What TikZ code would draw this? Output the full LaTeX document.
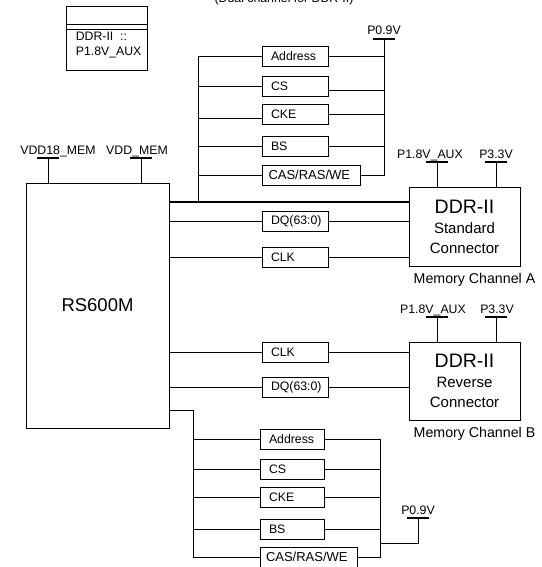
\documentclass[tikz,border=0pt]{standalone}
\usepackage{fontspec}
\setmainfont{Liberation Sans}
\usetikzlibrary{positioning,calc}

\begin{document}
\begin{tikzpicture}[x=1pt,y=-1pt,
  sigbox/.style={draw,line width=0.8pt,minimum height=20,inner xsep=9,text width=#1,align=left,
    font=\fontsize{12.3}{14}\selectfont},
  chipbox/.style={draw,line width=0.9pt,align=center},
  pwrtxt/.style={inner sep=0pt,font=\fontsize{12.3}{14}\selectfont},
  mainline/.style={line width=1.5pt},
  trunk/.style={line width=1pt},
  branch/.style={line width=0.6pt},
  rail/.style={line width=1.3pt}]
\useasboundingbox (0,0) rectangle (541,567);
% caption, cut at the top edge
\node[anchor=base,font=\fontsize{12.3}{14}\selectfont] (title) at (284,3) {(Dual channel for DDR-II)};
% legend
\node[draw,line width=0.8pt,minimum width=81,minimum height=64] (legend) at (106.5,38) {};
\draw[line width=0.8pt] ([yshift=-19]legend.north west) -- ([yshift=-19]legend.north east);
\draw[line width=0.8pt] ([yshift=-24]legend.north west) -- ([yshift=-24]legend.north east);
\node[anchor=north west,inner sep=0pt,align=left,font=\fontsize{12.3}{15}\selectfont] (legtxt) at ([xshift=10,yshift=-26]legend.north west) {DDR-II~~::\\P1.8V\_AUX};
% chips
\node[chipbox,minimum width=143,minimum height=245,font=\fontsize{18.5}{22}\selectfont] (rs) at (97.5,305.5) {RS600M};
\node[chipbox,minimum width=111,minimum height=79,font=\fontsize{15}{20}\selectfont] (ddrA) at (464.5,226.5) {{\fontsize{19.5}{22}\selectfont DDR-II}\\Standard\\Connector};
\node[chipbox,minimum width=111,minimum height=78,font=\fontsize{15}{20}\selectfont] (ddrB) at (464.5,381) {{\fontsize{19.5}{22}\selectfont DDR-II}\\Reverse\\Connector};
\node[anchor=north,inner sep=0pt,font=\fontsize{14.2}{16}\selectfont] (chA) at ([xshift=10,yshift=-7]ddrA.south) {Memory Channel A};
\node[anchor=north,inner sep=0pt,font=\fontsize{14.2}{16}\selectfont] (chB) at ([xshift=10,yshift=-7]ddrB.south) {Memory Channel B};
% power rails
\foreach \n/\x/\y/\dx/\t in {vmem18/48/158/10/VDD18\_MEM,vmem/141/158/-4/VDD\_MEM,
    auxA/437/162/-7/P1.8V\_AUX,p33A/496/162/0/P3.3V,
    auxB/437/317/-4/P1.8V\_AUX,p33B/496/317/1/P3.3V,
    vttA/384/39/0/P0.9V,vttB/418/518/0/P0.9V}{
  \coordinate (\n) at (\x,\y);
  \node[pwrtxt,anchor=base] (\n txt) at (\x+\dx,\y-4) {\t};
  \draw[rail] (\x-11,\y) -- (\x+11,\y);
}
\foreach \n/\c in {vmem18/rs,vmem/rs,auxA/ddrA,p33A/ddrA,auxB/ddrB,p33B/ddrB}{\draw[trunk] (\n) -- (\n |- \c.north);}
% channel A command bus
\node[sigbox=48] (tAddr) at (295,56.5) {Address};
\node[sigbox=48] (tCS) at (295,86.5) {CS};
\node[sigbox=48] (tCKE) at (295,114) {CKE};
\node[sigbox=48] (tBS) at (295,146.5) {BS};
\node[sigbox=86,inner xsep=6,font=\fontsize{13}{14}\selectfont] (tCAS) at (311.5,175) {CAS/RAS/WE};
\coordinate (abus) at (198,202);
\draw[mainline] (abus -| rs.east) -- (abus -| ddrA.west);
\draw[trunk] (abus) -- (abus |- tAddr.west) -- (tAddr.west);
\foreach \b/\l/\r in {tCS/0/-3.5,tCKE/-4/0,tBS/0/0}{
  \draw[branch] ([yshift=\l pt]\b.west -| abus) -- ([yshift=\l pt]\b.west);
  \draw[branch] ([yshift=\r pt]\b.east) -- ([yshift=\r pt]\b.east -| vttA);
}
\draw[branch] (tCAS.west -| abus) -- (tCAS.west);
\draw[branch] (tAddr.east) -- (tAddr.east -| vttA);
\draw[trunk] (vttA) -- (vttA |- tCAS.east) -- (tCAS.east);
% channel A data and clock
\node[sigbox=48] (dqA) at (295,221) {DQ(63:0)};
\node[sigbox=48] (clkA) at (295,257.5) {CLK};
\foreach \b/\c in {dqA/ddrA,clkA/ddrA}{
  \draw[trunk] (\b.west -| rs.east) -- (\b.west);
  \draw[trunk] (\b.east) -- (\b.east -| \c.west);
}
% channel B data and clock
\node[sigbox=48] (clkB) at (295,352) {CLK};
\node[sigbox=48] (dqB) at (295,387) {DQ(63:0)};
\foreach \b/\c in {clkB/ddrB,dqB/ddrB}{
  \draw[trunk] (\b.west -| rs.east) -- (\b.west);
  \draw[trunk] (\b.east) -- (\b.east -| \c.west);
}
% channel B command bus
\node[sigbox=46] (bAddr) at (292,439) {Address};
\node[sigbox=46] (bCS) at (292,469.5) {CS};
\node[sigbox=46] (bCKE) at (292,497) {CKE};
\node[sigbox=46] (bBS) at (292,529) {BS};
\node[sigbox=85,inner xsep=6,font=\fontsize{13}{14}\selectfont] (bCAS) at (308.5,557) {CAS/RAS/WE};
\coordinate (bbus) at (193,410);
\coordinate (brt) at (380,543);
\draw[trunk] (bbus -| rs.east) -- (bbus) -- (bbus |- bCAS.west) -- (bCAS.west);
\foreach \b in {bAddr,bCS,bCKE,bBS}{
  \draw[branch] (\b.west -| bbus) -- (\b.west);
}
\foreach \b in {bCS,bCKE,bBS}{
  \draw[branch] (\b.east) -- (\b.east -| brt);
}
\draw[trunk] (bAddr.east) -- (bAddr.east -| brt) -- (bCAS.east -| brt) -- (bCAS.east);
\draw[trunk] (brt) -- (brt -| vttB) -- (vttB);
\end{tikzpicture}
\end{document}
